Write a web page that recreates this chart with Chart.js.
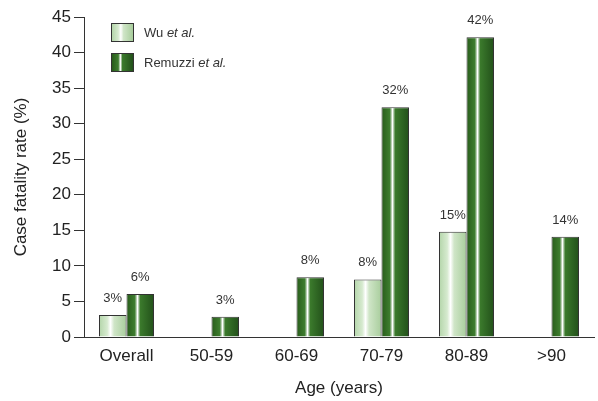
<!DOCTYPE html>
<html>
<head>
<meta charset="utf-8">
<script src="https://cdn.jsdelivr.net/npm/chart.js@4.4.1/dist/chart.umd.min.js"></script>
<style>
  html, body { margin: 0; padding: 0; background: #fff; }
  #wrap { position: relative; width: 598px; height: 401px; }
  #legend { position: absolute; left: 111px; top: 23px; font-family: "Liberation Sans", Arial, sans-serif; font-size: 13px; color: #333; }
  .item { display: flex; align-items: center; height: 19px; margin-bottom: 11px; }
  .box { width: 21px; height: 17px; border: 1px solid #333; margin-right: 10px; }
  .wu { background: linear-gradient(to right, #b3d5a9 0%, #d6eacf 30%, #ffffff 42%, #cfe5c7 55%, #a8cd9c 100%); }
  .rem { background: linear-gradient(to right, #285c1b 0%, #3e7d2f 30%, #ffffff 40%, #3b7a2c 50%, #22501a 100%); }
</style>
</head>
<body>
<div id="wrap">
  <canvas id="chart" width="598" height="401"></canvas>
  <div id="legend">
    <div class="item"><span class="box wu"></span><span>Wu <i>et al.</i></span></div>
    <div class="item"><span class="box rem"></span><span>Remuzzi <i>et al.</i></span></div>
  </div>
</div>
<script>
// data
const categories = ['Overall', '50-59', '60-69', '70-79', '80-89', '>90'];
const wuValues = [3.1, null, null, 8.1, 14.8, null];
const remuzziValues = [6.05, 2.85, 8.4, 32.3, 42.15, 14.1];
const yTicks = [0, 5, 10, 15, 20, 25, 30, 35, 40, 45];

const CAT_PCT = 0.647;
const FONT = '"Liberation Sans", Arial, sans-serif';

const wuStops = [[0, '#b3d5a9'], [0.3, '#d6eacf'], [0.42, '#ffffff'], [0.55, '#cfe5c7'], [1, '#a8cd9c']];
const remStops = [[0, '#285c1b'], [0.3, '#3e7d2f'], [0.4, '#ffffff'], [0.5, '#3b7a2c'], [1, '#22501a']];

// horizontal gradient across each bar
function barFill(context, stops) {
    const chart = context.chart;
    const area = chart.chartArea;
    if (context.type !== 'data' || !area) return stops[1][1];
    const catW = (area.right - area.left) / categories.length;
    const barW = catW * CAT_PCT / 2;
    const center = chart.scales.x.getPixelForValue(context.dataIndex);
    const left = context.datasetIndex === 0 ? center - barW : center;
    const g = chart.ctx.createLinearGradient(left, 0, left + barW, 0);
    stops.forEach(s => g.addColorStop(s[0], s[1]));
    return g;
}

// percentage labels above the bars
const valueLabels = {
    id: 'valueLabels',
    afterDatasetsDraw(chart) {
        const ctx = chart.ctx;
        ctx.save();
        ctx.font = '13px ' + FONT;
        ctx.fillStyle = '#333';
        ctx.textAlign = 'center';
        ctx.textBaseline = 'alphabetic';
        chart.data.datasets.forEach((ds, di) => {
            chart.getDatasetMeta(di).data.forEach((bar, i) => {
                const v = ds.data[i];
                if (v === null) return;
                ctx.fillText(Math.round(v) + '%', bar.x, bar.y - 13);
            });
        });
        ctx.restore();
    }
};

new Chart(document.getElementById('chart'), {
    type: 'bar',
    data: {
        labels: categories,
        datasets: [
            {
                label: 'Wu et al.',
                data: wuValues,
                backgroundColor: c => barFill(c, wuStops),
                borderColor: '#333',
                borderWidth: 1
            },
            {
                label: 'Remuzzi et al.',
                data: remuzziValues,
                backgroundColor: c => barFill(c, remStops),
                borderColor: '#333',
                borderWidth: 1
            }
        ]
    },
    options: {
        responsive: false,
        animation: false,
        layout: { padding: { left: 11, top: 17, right: 4, bottom: 2 } },
        datasets: { bar: { barPercentage: 1, categoryPercentage: CAT_PCT } },
        plugins: {
            legend: { display: false },
            tooltip: { enabled: false }
        },
        scales: {
            x: {
                grid: { display: false },
                border: { display: true, color: '#333', width: 1 },
                ticks: { color: '#222', font: { family: FONT, size: 17 }, padding: 1, maxRotation: 0 },
                title: { display: true, text: 'Age (years)', color: '#222', font: { family: FONT, size: 17 }, padding: 0 },
                afterFit: s => { s.height = 62; }
            },
            y: {
                min: 0,
                max: 45,
                afterBuildTicks: s => { s.ticks = yTicks.map(v => ({ value: v })); },
                grid: { drawOnChartArea: false, drawTicks: true, tickLength: 10, color: '#333' },
                border: { display: true, color: '#333', width: 1 },
                ticks: { color: '#222', font: { family: FONT, size: 17 }, padding: 3 },
                title: { display: true, text: 'Case fatality rate (%)', color: '#222', font: { family: FONT, size: 17 }, padding: 0 },
                afterFit: s => { s.width = 73; }
            }
        }
    },
    plugins: [valueLabels]
});
</script>
</body>
</html>
